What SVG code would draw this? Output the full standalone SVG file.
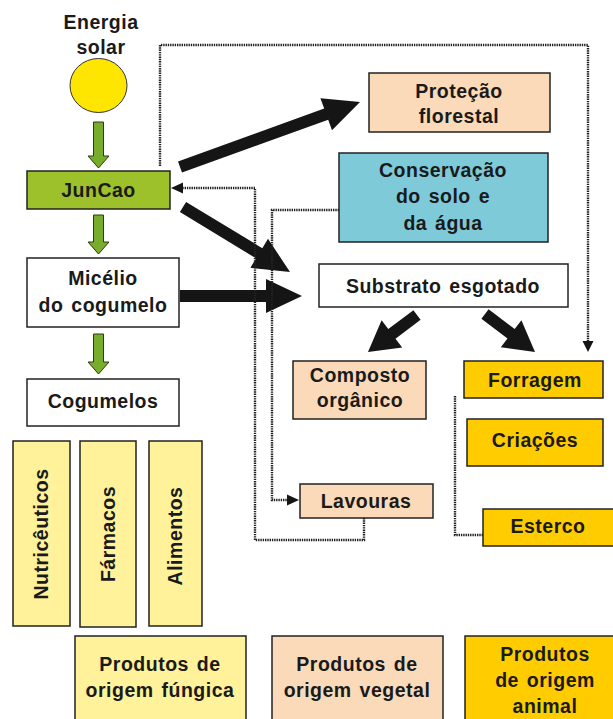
<svg xmlns="http://www.w3.org/2000/svg" width="613" height="719" viewBox="0 0 613 719">
<style>
text{font-family:"Liberation Sans",Arial,sans-serif;font-weight:bold;font-size:19.5px;letter-spacing:0.5px;word-spacing:2px;fill:#1a1a1a;text-anchor:middle}
.box{stroke:#222;stroke-width:1.5}
.white{fill:#fff}
.green{fill:#9cc12b}
.peach{fill:#fbdab9}
.gold{fill:#ffcc00}
.teal{fill:#7ecad9}
.lyel{fill:#fff29a}
.dot{fill:none;stroke:#222;stroke-width:2.4;stroke-dasharray:1.4 0.9}
.big{fill:#151515}
.garrow{fill:#77ad2a;stroke:#2d3a10;stroke-width:1}
.dhead{fill:#151515}
</style>
<rect width="613" height="719" fill="#fff"/>

<g id="energia-solar">
<text x="101" y="29">Energia</text>
<text x="101" y="54">solar</text>
<ellipse cx="98.5" cy="85.5" rx="28.5" ry="27" fill="#ffe600" stroke="#333" stroke-width="1"/>
</g>

<g id="juncao"><rect class="box green" x="27" y="171" width="143" height="38"/><text x="98.5" y="197">JunCao</text></g>
<g id="micelio"><rect class="box white" x="27" y="258" width="152" height="69"/><text x="103" y="285">Micélio</text><text x="103" y="312">do cogumelo</text></g>
<g id="cogumelos"><rect class="box white" x="27" y="379" width="152" height="47"/><text x="103" y="408">Cogumelos</text></g>
<g id="nutriceuticos"><rect class="box lyel" x="13" y="441" width="57" height="185"/><text transform="translate(48,534) rotate(-90)">Nutricêuticos</text></g>
<g id="farmacos"><rect class="box lyel" x="80" y="441" width="56" height="186"/><text transform="translate(115,534) rotate(-90)">Fármacos</text></g>
<g id="alimentos"><rect class="box lyel" x="149" y="441" width="53" height="185"/><text transform="translate(182,536) rotate(-90)">Alimentos</text></g>

<g id="protecao"><rect class="box peach" x="369" y="73" width="181" height="59"/><text x="459" y="98">Proteção</text><text x="459" y="123">florestal</text></g>
<g id="conservacao"><rect class="box teal" x="339" y="153" width="209" height="89"/><text x="443" y="177">Conservação</text><text x="443" y="203">do solo e</text><text x="443" y="230">da água</text></g>
<g id="substrato"><rect class="box white" x="319" y="264" width="249" height="43"/><text x="443" y="293">Substrato esgotado</text></g>
<g id="composto"><rect class="box peach" x="293" y="361" width="133" height="58"/><text x="360" y="382">Composto</text><text x="360" y="407">orgânico</text></g>
<g id="forragem"><rect class="box gold" x="464" y="361" width="139" height="37"/><text x="535" y="387">Forragem</text></g>
<g id="criacoes"><rect class="box gold" x="467" y="419" width="136" height="47"/><text x="535" y="447">Criações</text></g>
<g id="lavouras"><rect class="box peach" x="300" y="484" width="133" height="34"/><text x="366" y="508">Lavouras</text></g>
<g id="esterco"><rect class="box gold" x="483" y="509" width="132" height="37"/><text x="548" y="533">Esterco</text></g>

<g id="produtos-fungica"><rect class="box lyel" x="75" y="636" width="171" height="86"/><text x="160" y="671">Produtos de</text><text x="160" y="697">origem fúngica</text></g>
<g id="produtos-vegetal"><rect class="box peach" x="272" y="636" width="171" height="86"/><text x="357" y="671">Produtos de</text><text x="357" y="697">origem vegetal</text></g>
<g id="produtos-animal"><rect class="box gold" x="465" y="636" width="150" height="86"/><text x="545" y="661">Produtos</text><text x="545" y="687">de origem</text><text x="545" y="713">animal</text></g>

<g id="connectors">
<polygon class="garrow" points="93.5,122 103.5,122 103.5,156 109,156 98.5,168 88,156 93.5,156"/>
<polygon class="garrow" points="93.5,215 103.5,215 103.5,242 109,242 98.5,254 88,242 93.5,242"/>
<polygon class="garrow" points="93.5,334 103.5,334 103.5,362 109,362 98.5,374 88,362 93.5,362"/>

<polygon class="big" points="182,172.6 328.2,119.8 332,130.2 360,102 320.4,98.2 324.2,108.6 178,161.4"/>
<polygon class="big" points="179.9,212.1 256.1,258.4 250.4,267.8 290,272 268,238.8 262.3,248.2 186.1,201.9"/>
<polygon class="big" points="180,290 266,290 266,279 302,296 266,313 266,302 180,302"/>
<polygon class="big" points="413.4,310.2 388.3,329.1 381.6,320.3 368,352 402.2,347.5 395.5,338.7 420.6,319.8"/>
<polygon class="big" points="481.4,318.8 507.5,338.6 500.8,347.3 535,352 521.4,320.3 514.7,329 488.6,309.2"/>

<path class="dot" d="M160,166 V45 H588 V342"/>
<polygon class="dhead" points="588,352 582.5,341 593.5,341"/>
<path class="dot" d="M364,518 V540 H255 V188 H182"/>
<polygon class="dhead" points="171,188 183,182.5 183,193.5"/>
<path class="dot" d="M339,210 H272 V500 H288"/>
<polygon class="dhead" points="299,500 287,494.5 287,505.5"/>
<path class="dot" d="M483,535 H455 V395"/>
</g>
</svg>
